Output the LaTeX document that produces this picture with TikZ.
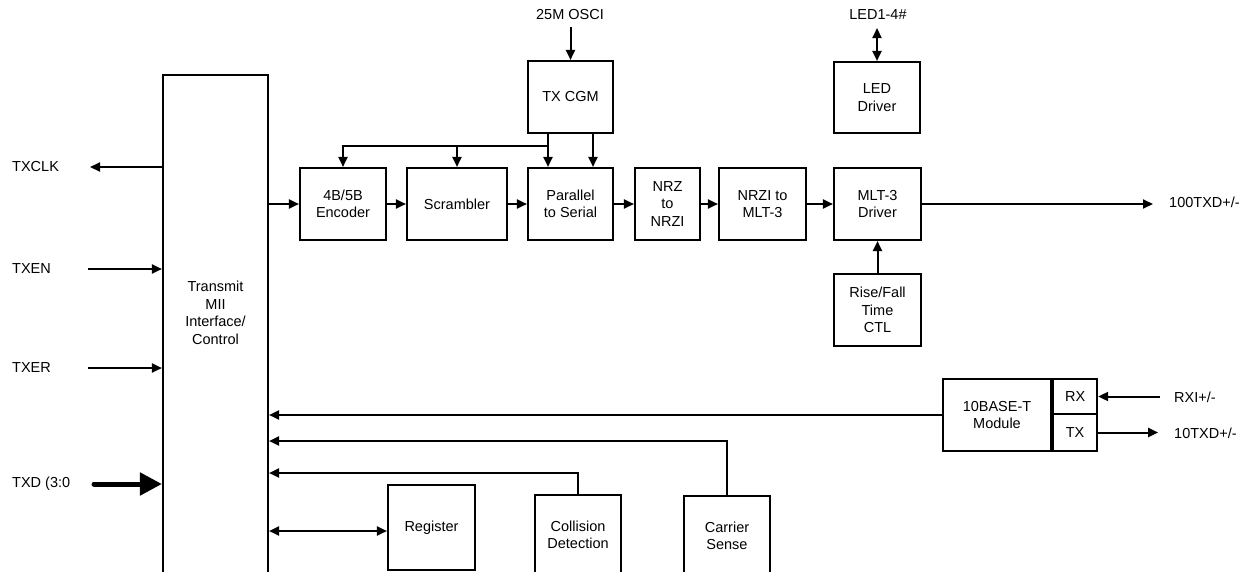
\documentclass[tikz,border=0pt]{standalone}
\usepackage{fontspec}
\setmainfont{Liberation Sans}
\usetikzlibrary{arrows.meta}
\tikzset{>={Triangle[length=10pt,width=9pt]},
  block/.style={draw, line width=2.1pt, align=center, inner sep=0pt},
  wire/.style={line width=2pt},
  lbl/.style={inner sep=0pt}}

\begin{document}
\begin{tikzpicture}[x=1pt,y=-1pt,font=\fontsize{14.5}{17.5}\selectfont]
    \path[use as bounding box, clip] (0,0) rectangle (1244,571);
    % MII block and the pins on its left
    \node[block, minimum width=105, minimum height=500] (mii) at (215.5,325) {};
    \node[align=center] (miitxt) at (215.5,313) {Transmit\\MII\\Interface/\\Control};
    \node[lbl, anchor=west] (txclk) at (12,167) {TXCLK};
    \node[lbl, anchor=west] (txen) at (12,269) {TXEN};
    \node[lbl, anchor=west] (txer) at (12,368) {TXER};
    \node[lbl, anchor=west] (txd) at (12,484) {TXD (3:0};
    \coordinate (clkend) at (90,167);
    \coordinate (enbeg) at (88,269);
    \coordinate (erbeg) at (88,368);
    \coordinate (dbeg) at (94,484);
    \draw[wire,->] (mii.west |- clkend) -- (clkend);
    \draw[wire,->] (enbeg) -- (enbeg -| mii.west);
    \draw[wire,->] (erbeg) -- (erbeg -| mii.west);
    \draw[line width=5pt, line cap=round, -{Triangle[length=22pt,width=22pt]}] (dbeg) -- (dbeg -| mii.west);
    % 100BASE-TX transmit chain
    \node[block, minimum width=86, minimum height=72] (enc) at (343,204) {4B/5B\\Encoder};
    \node[block, minimum width=100, minimum height=72] (scr) at (457,204) {Scrambler};
    \node[block, minimum width=85, minimum height=72] (p2s) at (570.5,204) {Parallel\\to Serial};
    \node[block, minimum width=65, minimum height=72] (nrz) at (667.5,204) {NRZ\\to\\NRZI};
    \node[block, minimum width=87, minimum height=72] (mlt) at (762.5,204) {NRZI to\\MLT-3};
    \node[block, minimum width=87, minimum height=72] (drv) at (877.5,204) {MLT-3\\Driver};
    \node[block, minimum width=85, minimum height=72] (cgm) at (570.5,97) {TX CGM};
    \node[block, minimum width=86, minimum height=71] (led) at (877,97.5) {LED\\Driver};
    \node[block, minimum width=87, minimum height=72] (rise) at (877.5,310) {Rise/Fall\\Time\\CTL};
    \node[lbl] (osc) at (570,15) {25M OSCI};
    \node[lbl] (ledpin) at (878,15) {LED1-4\#};
    \node[lbl, anchor=west] (out100) at (1169,202) {100TXD+/-};
    \coordinate (out100tip) at (1153,204);
    \draw[wire,->] (mii.east |- enc.west) -- (enc.west);
    \draw[wire,->] (enc.east) -- (scr.west);
    \draw[wire,->] (scr.east) -- (p2s.west);
    \draw[wire,->] (p2s.east) -- (nrz.west);
    \draw[wire,->] (nrz.east) -- (mlt.west);
    \draw[wire,->] (mlt.east) -- (drv.west);
    \draw[wire,->] (drv.east) -- (out100tip);
    \draw[wire,->] (rise.north) -- (drv.south);
    \draw[wire,->] (cgm.north |- 0,27) -- (cgm.north);
    \draw[wire,<->] (led.north |- 0,28) -- (led.north);
    % clock bus from TX CGM
    \coordinate (bus) at (548,146);
    \draw[wire,->] (cgm.south -| bus) -- (p2s.north -| bus);
    \draw[wire,->] (bus) -| (enc.north);
    \draw[wire,->] (bus -| scr.north) -- (scr.north);
    \draw[wire,->] ([xshift=22.5pt]cgm.south) -- ([xshift=22.5pt]p2s.north);
    % 10BASE-T module
    \node[block, minimum width=108, minimum height=72] (tenb) at (997,415) {10BASE-T\\Module};
    \node[block, minimum width=44, minimum height=35, anchor=north west] (rx) at (tenb.north east) {RX};
    \node[block, minimum width=44, minimum height=37, anchor=south west] (tx) at (tenb.south east) {TX};
    \node[lbl, anchor=west] (rxi) at (1174,397) {RXI+/-};
    \node[lbl, anchor=west] (out10) at (1174,433) {10TXD+/-};
    \draw[wire,->] ([xshift=62pt]rx.east) -- (rx.east);
    \draw[wire,->] (tx.east) -- ([xshift=60pt]tx.east);
    \draw[wire,->] (tenb.west) -- (tenb.west -| mii.east);
    % status blocks under the MII
    \node[block, minimum width=87, minimum height=85] (reg) at (431.5,527.5) {Register};
    \node[block, minimum width=86, minimum height=80] (coll) at (578,535) {Collision\\Detection};
    \node[block, minimum width=86, minimum height=80] (carr) at (727,536) {Carrier\\Sense};
    \coordinate (cs) at (0,441);
    \coordinate (cd) at (0,473);
    \coordinate (rg) at (0,531);
    \draw[wire,->] (carr.north) |- (mii.east |- cs);
    \draw[wire,->] (coll.north) |- (mii.east |- cd);
    \draw[wire,<->] (mii.east |- rg) -- (reg.west |- rg);
\end{tikzpicture}
\end{document}
